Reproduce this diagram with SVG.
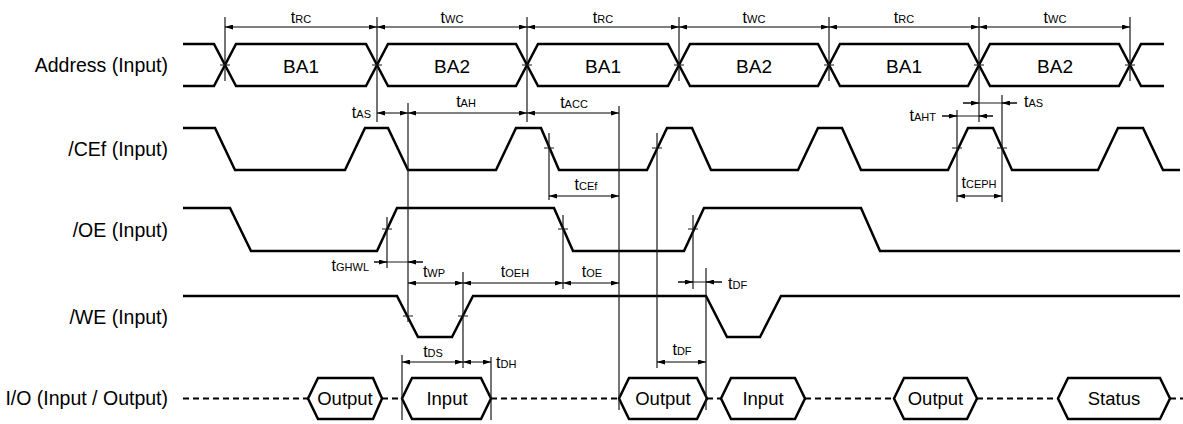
<svg xmlns="http://www.w3.org/2000/svg" width="1183" height="424" viewBox="0 0 1183 424">
<defs>
<marker id="ah" viewBox="0 0 8 5" refX="8" refY="2.5" markerWidth="8" markerHeight="5" markerUnits="userSpaceOnUse" orient="auto-start-reverse">
<path d="M0,0 L8,2.5 L0,5 z" fill="#000"/>
</marker>
</defs>
<style>
.w{fill:none;stroke:#000;stroke-width:2.5;stroke-linejoin:miter}
.d{fill:none;stroke:#000;stroke-width:2;stroke-dasharray:6 4}
.v{stroke:#1a1a1a;stroke-width:1.2;fill:none}
.a{stroke:#000;stroke-width:1;fill:none;marker-start:url(#ah);marker-end:url(#ah)}
.s{stroke:#000;stroke-width:1;fill:none;marker-end:url(#ah)}
.lbl{font-family:"Liberation Sans",Arial,sans-serif;font-size:18.5px;fill:#000}
.sig{font-family:"Liberation Sans",Arial,sans-serif;font-size:19.5px;fill:#000}
.ba{font-size:19px}
.t{font-family:"Liberation Sans",Arial,sans-serif;font-size:16px;fill:#000}
.t tspan{font-size:11px}
</style>
<rect width="1183" height="424" fill="#fff"/>

<g id="labels" class="sig" text-anchor="end">
<text x="168" y="72">Address (Input)</text>
<text x="168" y="156">/CEf (Input)</text>
<text x="168" y="237">/OE (Input)</text>
<text x="168" y="324">/WE (Input)</text>
<text x="168" y="405">I/O (Input / Output)</text>
</g>

<g id="address">
<polyline class="w" points="183,44 214,44 236,86 366,86 388,44 516,44 538,86 668,86 690,44 818,44 840,86 968,86 990,44 1119,44 1141,86 1164,86"/>
<polyline class="w" points="183,86 214,86 236,44 366,44 388,86 516,86 538,44 668,44 690,86 818,86 840,44 968,44 990,86 1119,86 1141,44 1164,44"/>
<g class="lbl ba" text-anchor="middle">
<text x="301" y="73">BA1</text>
<text x="452" y="73">BA2</text>
<text x="603" y="73">BA1</text>
<text x="754" y="73">BA2</text>
<text x="904" y="73">BA1</text>
<text x="1055" y="73">BA2</text>
</g>
</g>

<g id="cef">
<polyline class="w" points="183,128 215,128 235,170 345,170 365,128 388,128 408,170 496,170 516,128 541,128 559,170 647,170 667,128 692,128 711,170 798,170 818,128 842,128 861,170 948,170 968,128 993,128 1012,170 1098,170 1118,128 1143,128 1163,170 1180,170"/>
</g>

<g id="oe">
<polyline class="w" points="183,208 230,208 251,251 377,251 397,208 554,208 573,251 684,251 704,208 861,208 880,251 1180,251"/>
</g>

<g id="we">
<polyline class="w" points="183,296 397,296 418,337 452,337 473,296 706,296 727,337 760,337 781,296 1180,296"/>
</g>

<g id="io">
<path class="d" d="M183,398.5 H308 M382,398.5 H402 M491,398.5 H619 M707,398.5 H721 M805,398.5 H894 M977,398.5 H1058 M1170,398.5 H1183"/>
<g id="io-output1"><polygon class="w" points="308,398.5 318,378 373,378 382,398.5 373,419 318,419"/><text class="lbl" x="345" y="405" text-anchor="middle">Output</text></g>
<g id="io-input1"><polygon class="w" points="402,398.5 412,378 481,378 491,398.5 481,419 412,419"/><text class="lbl" x="447" y="405" text-anchor="middle">Input</text></g>
<g id="io-output2"><polygon class="w" points="619,398.5 629,378 697,378 707,398.5 697,419 629,419"/><text class="lbl" x="663" y="405" text-anchor="middle">Output</text></g>
<g id="io-input2"><polygon class="w" points="721,398.5 731,378 795,378 805,398.5 795,419 731,419"/><text class="lbl" x="763" y="405" text-anchor="middle">Input</text></g>
<g id="io-output3"><polygon class="w" points="894,398.5 904,378 967,378 977,398.5 967,419 904,419"/><text class="lbl" x="935.5" y="405" text-anchor="middle">Output</text></g>
<g id="io-status"><polygon class="w" points="1058,398.5 1068,378 1160,378 1170,398.5 1160,419 1068,419"/><text class="lbl" x="1114" y="405" text-anchor="middle">Status</text></g>
</g>

<g id="connectors">
<g id="guides" class="v">
<path d="M225,17 V81 M377,17 V122 M527,17 V122 M679,17 V81 M829,17 V81 M979,17 V122 M1130,17 V81"/>
<path d="M408,103 V322 M619,106 V410 M549,133 V200 M957,110 V202 M1002,95 V202 M387,217 V268 M563,215 V289 M693,215 V289 M657,133 V368 M706,268 V410 M463,272 V368 M402,355 V420 M491,357 V420"/>
<path d="M220,65 H230 M372,65 H382 M522,65 H532 M674,65 H684 M824,65 H834 M974,65 H984 M1125,65 H1135"/>
<path d="M544,148 H554 M652,148 H662 M952,148 H962 M997,148 H1007 M382,229 H392 M558,229 H568 M688,229 H698 M403,316 H413 M458,316 H468"/>
</g>
<g id="arrows">
<path class="a" d="M225,27 H377"/>
<path class="a" d="M377,27 H527"/>
<path class="a" d="M527,27 H679"/>
<path class="a" d="M679,27 H829"/>
<path class="a" d="M829,27 H979"/>
<path class="a" d="M979,27 H1130"/>
<path class="a" d="M377,113 H408"/>
<path class="a" d="M408,113 H527"/>
<path class="a" d="M527,113 H619"/>
<path class="a" d="M549,196 H619"/>
<path class="a" d="M957,196 H1002"/>
<path class="a" d="M408,283 H463"/>
<path class="a" d="M463,283 H563"/>
<path class="a" d="M563,283 H619"/>
<path class="a" d="M402,362 H463"/>
<path class="a" d="M463,362 H491"/>
<path class="a" d="M657,362 H706"/>
<path class="v" style="stroke-width:1" d="M374,262 H423 M678,282 H722 M963,103 H1017 M942,116 H993"/>
<path class="s" d="M374,262 H387"/>
<path class="s" d="M423,262 H408"/>
<path class="s" d="M678,282 H693"/>
<path class="s" d="M722,282 H706"/>
<path class="s" d="M963,103 H979"/>
<path class="s" d="M1017,103 H1002"/>
<path class="s" d="M942,116 H957"/>
<path class="s" d="M993,116 H979"/>
</g>
<g id="timing-labels" class="t">
<text x="301" y="23" text-anchor="middle">t<tspan>RC</tspan></text>
<text x="452" y="23" text-anchor="middle">t<tspan>WC</tspan></text>
<text x="603" y="23" text-anchor="middle">t<tspan>RC</tspan></text>
<text x="754" y="23" text-anchor="middle">t<tspan>WC</tspan></text>
<text x="904" y="23" text-anchor="middle">t<tspan>RC</tspan></text>
<text x="1055" y="23" text-anchor="middle">t<tspan>WC</tspan></text>
<text x="371" y="118" text-anchor="end">t<tspan>AS</tspan></text>
<text x="466" y="107" text-anchor="middle">t<tspan>AH</tspan></text>
<text x="574" y="108" text-anchor="middle">t<tspan>ACC</tspan></text>
<text x="586" y="190" text-anchor="middle">t<tspan>CEf</tspan></text>
<text x="1024" y="107">t<tspan>AS</tspan></text>
<text x="936" y="121" text-anchor="end">t<tspan>AHT</tspan></text>
<text x="979" y="188" text-anchor="middle">t<tspan>CEPH</tspan></text>
<text x="369" y="271" text-anchor="end">t<tspan>GHWL</tspan></text>
<text x="434" y="277" text-anchor="middle">t<tspan>WP</tspan></text>
<text x="515" y="277" text-anchor="middle">t<tspan>OEH</tspan></text>
<text x="592" y="277" text-anchor="middle">t<tspan>OE</tspan></text>
<text x="728" y="289">t<tspan>DF</tspan></text>
<text x="433" y="357" text-anchor="middle">t<tspan>DS</tspan></text>
<text x="496" y="368">t<tspan>DH</tspan></text>
<text x="682" y="355" text-anchor="middle">t<tspan>DF</tspan></text>
</g>
</g>
</svg>
